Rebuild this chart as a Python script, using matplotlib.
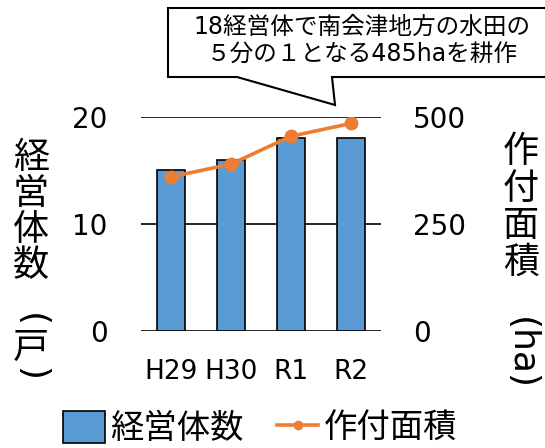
import matplotlib.pyplot as plt
from matplotlib.patches import Polygon, Patch
from matplotlib.lines import Line2D

plt.rcParams['font.family'] = ['DejaVu Sans', 'Noto Sans CJK JP']

# data
years = ['H29', 'H30', 'R1', 'R2']
farms = [15, 16, 18, 18]            # 経営体数（戸）
area_ha = [360, 390, 455, 485]      # 作付面積（ha）
left_ticks = [0, 10, 20]
right_ticks = [0, 250, 500]
callout_lines = ['18経営体で南会津地方の水田の', '５分の１となる485haを耕作']

BLUE = '#5B9BD5'
ORANGE = '#ED7D31'
W, H = 545, 448


def fx(px):
    return px / W


def fy(py):
    return 1 - py / H


fig = plt.figure(figsize=(W / 100, H / 100), dpi=100)
ax = fig.add_axes([fx(141), fy(331), 240 / W, 214 / H])

x = range(len(years))
ax.bar(x, farms, width=0.48, color=BLUE, edgecolor='black', linewidth=1.2, zorder=2)
ax.set_xlim(-0.5, len(years) - 0.5)
ax.set_ylim(0, 20)
ax.set_yticks(left_ticks)
for v in left_ticks:
    ax.axhline(v, color='black', linewidth=1.2, zorder=1)
ax.set_xticks(list(x))
ax.set_xticklabels(years)
ax.tick_params(axis='y', length=0, pad=24, labelsize=20)
ax.tick_params(axis='x', length=0, pad=20, labelsize=19)
for s in ax.spines.values():
    s.set_visible(False)

ax2 = ax.twinx()
ax2.plot(x, area_ha, color=ORANGE, linewidth=2.6, marker='o', markersize=9, zorder=3)
ax2.set_ylim(0, 500)
ax2.set_yticks(right_ticks)
ax2.tick_params(axis='y', length=0, pad=23, labelsize=20)
for s in ax2.spines.values():
    s.set_visible(False)

# vertical axis titles
for i, ch in enumerate(['経', '営', '体', '数']):
    fig.text(fx(31), fy(158 + 36 * i), ch, ha='center', va='center', fontsize=26)
fig.text(fx(31), fy(320), '(', ha='center', va='center', fontsize=26, rotation=-90)
fig.text(fx(31), fy(348), '戸', ha='center', va='center', fontsize=26)
fig.text(fx(31), fy(374), ')', ha='center', va='center', fontsize=26, rotation=-90)

for i, ch in enumerate(['作', '付', '面', '積']):
    fig.text(fx(521), fy(152 + 37 * i), ch, ha='center', va='center', fontsize=26)
fig.text(fx(521), fy(353), '(ha)', ha='center', va='center', fontsize=26, rotation=-90,
         family='DejaVu Sans')

# callout
pts = [(168, 8), (556, 8), (556, 77), (332, 77), (335, 105), (237, 77), (168, 77)]
callout = Polygon([(fx(a), fy(b)) for a, b in pts], closed=True, facecolor='white',
                  edgecolor='black', linewidth=1.5, transform=fig.transFigure, clip_on=False)
fig.add_artist(callout)
fig.text(fx(362), fy(27), callout_lines[0], ha='center', va='center', fontsize=17)
fig.text(fx(362), fy(55), callout_lines[1], ha='center', va='center', fontsize=17)

# legend
handles = [Patch(facecolor=BLUE, edgecolor='black', linewidth=1.2),
           Line2D([], [], color=ORANGE, linewidth=2.6, marker='o', markersize=6)]
fig.legend(handles, ['経営体数', '作付面積'], loc='center', bbox_to_anchor=(fx(260), fy(428)),
           ncol=2, frameon=False, fontsize=24, handlelength=1.25, handleheight=1.1,
           handletextpad=0.15, columnspacing=1.0, borderpad=0)

fig.savefig('out.png', dpi=100)
